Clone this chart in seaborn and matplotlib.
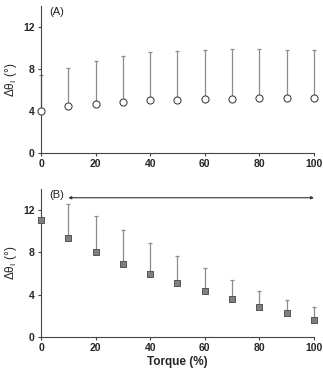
import numpy as np
import pandas as pd
import matplotlib
matplotlib.use('Agg')
import matplotlib.pyplot as plt
import seaborn as sns

# torque levels (%)
torque = [0, 10, 20, 30, 40, 50, 60, 70, 80, 90, 100]

# panel A: mean and upper SD end
a_mean = [3.96, 4.43, 4.68, 4.87, 5.00, 5.06, 5.13, 5.16, 5.22, 5.25, 5.28]
a_top = [7.44, 8.13, 8.80, 9.27, 9.59, 9.75, 9.84, 9.90, 9.90, 9.84, 9.81]

# panel B
b_mean = [11.05, 9.32, 8.02, 6.92, 5.97, 5.08, 4.29, 3.54, 2.84, 2.21, 1.58]
b_top = [11.05, 12.54, 11.40, 10.14, 8.90, 7.64, 6.47, 5.34, 4.33, 3.44, 2.78]

yticks = [0, 4, 8, 12]
xticks = [0, 20, 40, 60, 80, 100]

sns.set_style('ticks')
plt.rcParams['font.family'] = ['Liberation Sans', 'DejaVu Sans']

fig = plt.figure(figsize=(3.23, 3.74), dpi=100)
axA = fig.add_axes([0.127, 0.591, 0.845, 0.393])
axB = fig.add_axes([0.127, 0.0997, 0.845, 0.395])

dfA = pd.DataFrame({'torque': torque, 'mean': a_mean, 'top': a_top})
dfB = pd.DataFrame({'torque': torque, 'mean': b_mean, 'top': b_top})

err_col = '#8c8c8c'
for ax, df in [(axA, dfA), (axB, dfB)]:
    up = df['top'] - df['mean']
    ax.errorbar(df['torque'], df['mean'], yerr=[np.zeros(len(df)), up],
                fmt='none', ecolor=err_col, elinewidth=0.9, capsize=1.5,
                capthick=0.9, zorder=2, clip_on=False)

sns.scatterplot(data=dfA, x='torque', y='mean', ax=axA, marker='o', s=26,
                facecolor='white', edgecolor='#444444', linewidth=0.8,
                zorder=3, clip_on=False, legend=False)
sns.scatterplot(data=dfB, x='torque', y='mean', ax=axB, marker='s', s=24,
                color='#7f7f7f', edgecolor='#555555', linewidth=0.7,
                zorder=3, clip_on=False, legend=False)

for ax, lab in [(axA, '(A)'), (axB, '(B)')]:
    ax.set_xlim(0, 100)
    ax.set_ylim(0, 14)
    ax.set_xticks(xticks)
    ax.set_yticks(yticks)
    sns.despine(ax=ax)
    for s in ['left', 'bottom']:
        ax.spines[s].set_linewidth(0.8)
        ax.spines[s].set_color('#444444')
    ax.tick_params(length=2.5, width=0.8, color='#444444', labelsize=7.5,
                   pad=2)
    for t in ax.get_xticklabels() + ax.get_yticklabels():
        t.set_fontweight('bold')
    ax.set_ylabel('Δθ$_\\mathregular{I}$ (°)', fontsize=8.5, labelpad=3)
    ax.set_xlabel('')
    ax.text(3, 13.9, lab, fontsize=8, va='top', ha='left', color='#222222')

axB.set_xlabel('Torque (%)', fontsize=8.5, fontweight='bold', labelpad=2)

# significance span arrow in B
axB.annotate('', xy=(10, 13.17), xytext=(100, 13.17),
             arrowprops=dict(arrowstyle='<|-|>', color='#333333', lw=0.8,
                             mutation_scale=4, shrinkA=0, shrinkB=0))

fig.savefig('out.png', dpi=100)
